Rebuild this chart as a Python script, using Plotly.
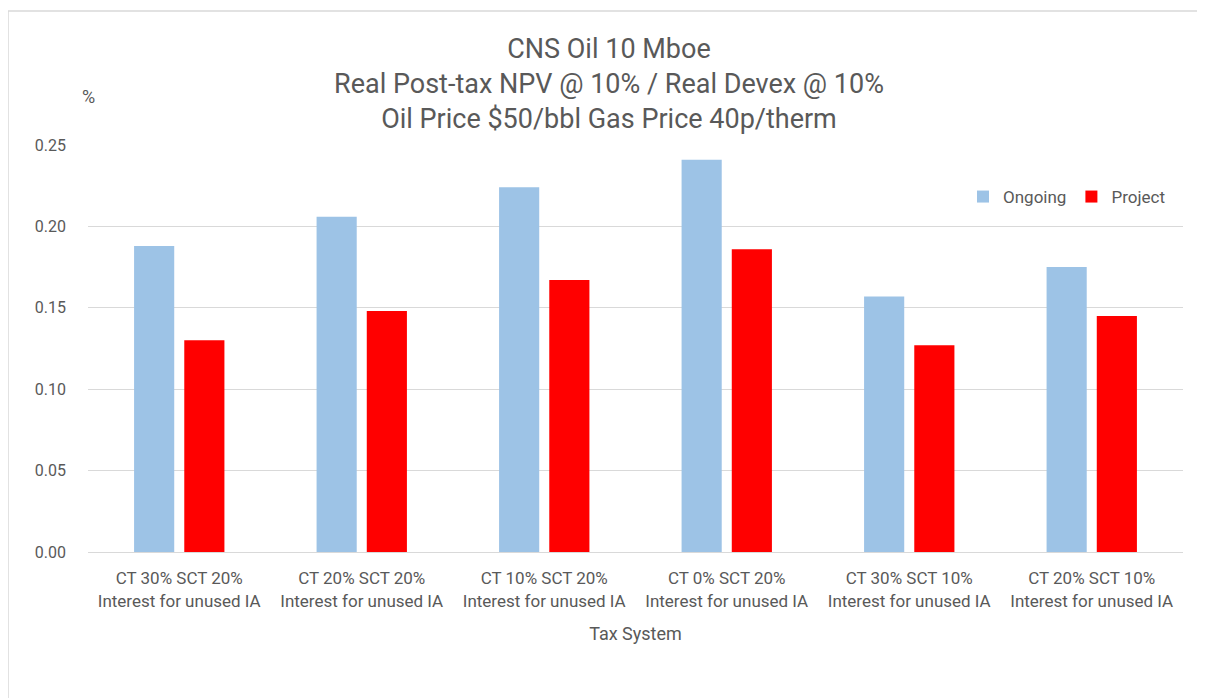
import plotly.graph_objects as go

categories = [
    "CT 30% SCT 20%<br>Interest for unused IA",
    "CT 20% SCT 20%<br>Interest for unused IA",
    "CT 10% SCT 20%<br>Interest for unused IA",
    "CT 0% SCT 20%<br>Interest for unused IA",
    "CT 30% SCT 10%<br>Interest for unused IA",
    "CT 20% SCT 10%<br>Interest for unused IA",
]
ongoing = [0.188, 0.206, 0.224, 0.241, 0.157, 0.175]
project = [0.130, 0.148, 0.167, 0.186, 0.127, 0.145]
y_ticks = [0.00, 0.05, 0.10, 0.15, 0.20, 0.25]

FONT = "Roboto"
TXT = "#595959"

fig = go.Figure()
fig.add_trace(go.Bar(name="Ongoing", x=categories, y=ongoing, marker_color="#9DC3E6",
                     marker_line_width=0))
fig.add_trace(go.Bar(name="Project", x=categories, y=project, marker_color="#FF0000",
                     marker_line_width=0))

# page body has an 8px margin; screen coords = figure coords + 8
OFF = 8
W, H = 1197, 690
L, R, T, B = 88 - OFF, 22, 145 - OFF, 146
pw, ph = W - L - R, H - T - B

def px(x):  # x in screen px
    return (x - OFF - L) / pw

def py(y):  # y in screen px
    return (H - B - (y - OFF)) / ph

fig.update_layout(
    width=W, height=H,
    margin=dict(l=L, r=R, t=T, b=B),
    paper_bgcolor="white", plot_bgcolor="white",
    font=dict(family=FONT, color=TXT, size=16),
    barmode="group", bargap=0.45, bargroupgap=0.2,
    showlegend=True,
    legend=dict(orientation="h", x=px(1170), y=py(197), xanchor="right", yanchor="middle",
                font=dict(size=17, color=TXT), bgcolor="rgba(0,0,0,0)",
                itemwidth=30, traceorder="normal"),
    xaxis=dict(showgrid=False, showline=True, linecolor="#D9D9D9", linewidth=1,
               ticks="", tickfont=dict(size=17, color=TXT), ticklabelstandoff=11,
               title=dict(text="Tax System", font=dict(size=18, color=TXT), standoff=17)),
    yaxis=dict(range=[0, 0.25], tickvals=y_ticks, tickformat=".2f",
               showgrid=True, gridcolor="#D9D9D9", gridwidth=1, zeroline=False,
               showline=False, ticks="", ticklabelstandoff=21,
               tickfont=dict(size=16, color=TXT)),
    annotations=[
        dict(text="CNS Oil 10 Mboe<br>Real Post-tax NPV @ 10% / Real Devex @ 10%<br>Oil Price $50/bbl Gas Price 40p/therm",
             xref="paper", yref="paper", x=px(609), y=py(84), xanchor="center", yanchor="middle",
             showarrow=False, font=dict(size=27, color=TXT)),
        dict(text="%", xref="paper", yref="paper", x=px(88), y=py(97), xanchor="center",
             yanchor="middle", showarrow=False, font=dict(size=18, color=TXT)),
    ],
    shapes=[
        dict(type="rect", xref="paper", yref="paper", x0=px(8), x1=px(1215), y0=py(720), y1=py(11),
             line=dict(color="#D9D9D9", width=1.5), fillcolor="rgba(0,0,0,0)", layer="below"),
    ],
)

fig.write_html("out.html")
